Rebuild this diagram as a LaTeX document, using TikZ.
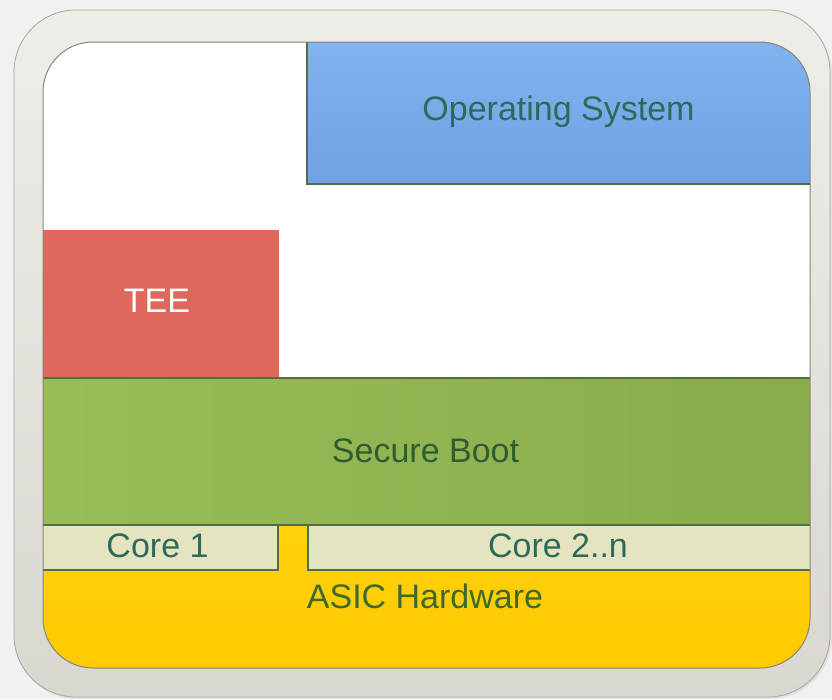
\documentclass[tikz,border=0pt]{standalone}
\usepackage{fontspec}
\setmainfont{Liberation Sans}

\definecolor{pagebg}{HTML}{F1F1F1}
\definecolor{frametop}{HTML}{EFEDE7}
\definecolor{framebot}{HTML}{D9D7D0}
\definecolor{frameedge}{HTML}{A8A7A0}
\definecolor{inneredge}{HTML}{85857F}
\definecolor{osblue}{HTML}{84B6EF}
\definecolor{osbluedk}{HTML}{6FA1E4}
\definecolor{teered}{HTML}{DE685C}
\definecolor{bootgreen}{HTML}{9ABD57}
\definecolor{bootgreendk}{HTML}{88AA4B}
\definecolor{corecream}{HTML}{E4E5C0}
\definecolor{asicyellow}{HTML}{FFD20A}
\definecolor{asicyellowdk}{HTML}{FFC800}
\definecolor{edgeline}{HTML}{4F6D47}
\definecolor{ostext}{HTML}{2E6A5A}
\definecolor{greentext}{HTML}{2F5D33}
\definecolor{asictext}{HTML}{3C6A2A}

\tikzset{
  layer/.style={rectangle, inner sep=0pt, outer sep=0pt},
  edged/.style={layer, draw=edgeline, line width=1.6pt},
  lbl/.style={font=\fontsize{34}{40}\selectfont, inner sep=0pt, anchor=base}
}

\begin{document}
\begin{tikzpicture}[x=1pt,y=-1pt]
  \fill[pagebg] (0,0) rectangle (832,699);
  \useasboundingbox (0,0) rectangle (832,699);

  % outer frame with a faint shadow
  \fill[black!12, rounded corners=62pt] (15,12) rectangle (832,699);
  \node[layer, minimum width=816pt, minimum height=687pt, rounded corners=62pt,
        top color=frametop, bottom color=framebot, draw=frameedge, line width=0.8pt]
        (frame) at (422,353.5) {};

  % inner panel holding the stacked layers
  \begin{scope}
    \clip[rounded corners=50pt] (43,42) rectangle (810,668);
    \fill[white] (43,42) rectangle (810,668);

    \node[layer, minimum width=800pt, minimum height=165pt,
          top color=asicyellow, bottom color=asicyellowdk] (asic) at (430,607.5) {};
    \node[edged, minimum width=258pt, minimum height=45pt, fill=corecream] (core1) at (149,547.5) {};
    \node[edged, minimum width=522pt, minimum height=45pt, fill=corecream] (core2) at (569,547.5) {};
    \node[edged, minimum width=810pt, minimum height=147pt,
          left color=bootgreen, right color=bootgreendk] (boot) at (425,451.5) {};
    \node[layer, minimum width=259pt, minimum height=147pt, fill=teered] (tee) at (149.5,303.5) {};
    \node[edged, minimum width=523pt, minimum height=164pt,
          top color=osblue, bottom color=osbluedk] (os) at (568.5,102) {};
  \end{scope}
  \draw[inneredge, line width=1pt, rounded corners=50pt] (43,42) rectangle (810,668);

  % layer labels
  \node[lbl, text=ostext] (os-t) at (558.5,120) {Operating System};
  \node[lbl, text=white] (tee-t) at (157,312) {TEE};
  \node[lbl, text=greentext] (boot-t) at (425.5,462) {Secure Boot};
  \node[lbl, text=ostext] (core1-t) at (157.5,557) {Core 1};
  \node[lbl, text=ostext] (core2-t) at (558,557) {Core 2..n};
  \node[lbl, text=asictext] (asic-t) at (425,608) {ASIC Hardware};
\end{tikzpicture}
\end{document}
